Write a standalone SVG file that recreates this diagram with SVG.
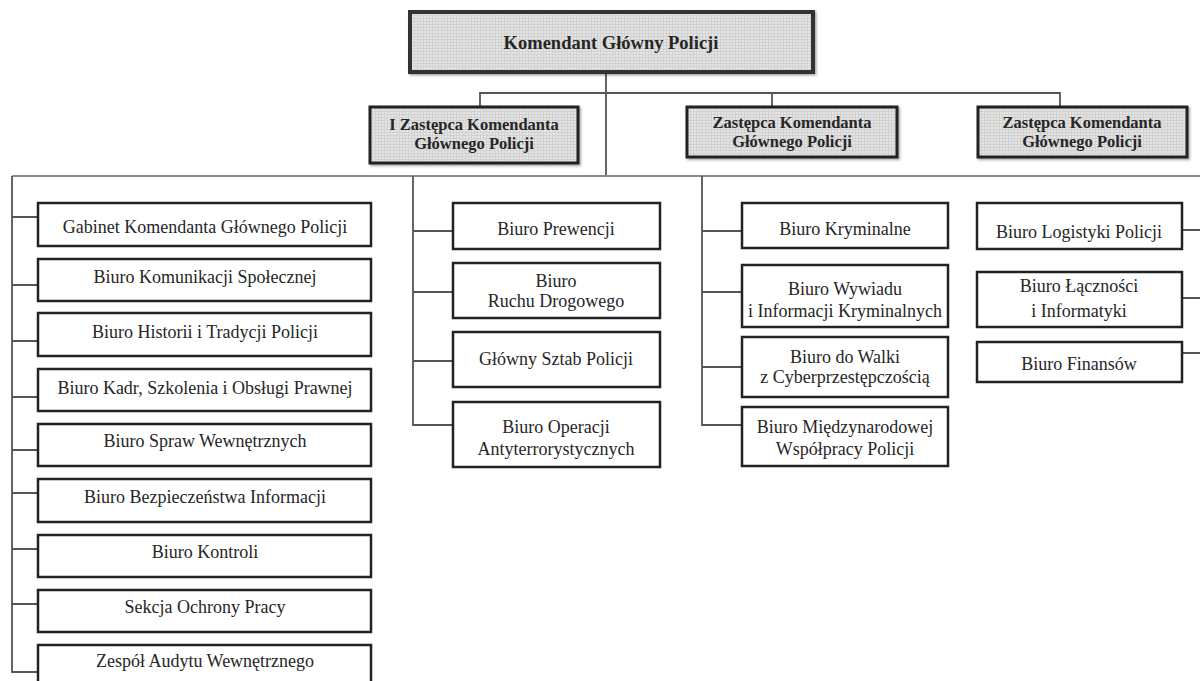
<svg xmlns="http://www.w3.org/2000/svg" width="1200" height="681" viewBox="0 0 1200 681">
<defs>
<pattern id="grid" width="3" height="3" patternUnits="userSpaceOnUse">
<rect width="3" height="3" fill="#e4e4e4"/>
<path d="M0 0.5H3M0.5 0V3" stroke="#d2d2d2" stroke-width="1"/>
</pattern>
<filter id="sh" x="-5%" y="-10%" width="110%" height="130%">
<feDropShadow dx="1.5" dy="1.5" stdDeviation="1" flood-color="#000" flood-opacity="0.35"/>
</filter>
</defs>
<style>
.top{fill:url(#grid);stroke:#333;stroke-width:4;filter:url(#sh)}
.dep{fill:url(#grid);stroke:#222;stroke-width:3;filter:url(#sh)}
.box{fill:#fff;stroke:#222;stroke-width:2.5}
.ln{fill:none;stroke:#555;stroke-width:1.8}
.lt{fill:none;stroke:#8a8a8a;stroke-width:1.8}
text{font-family:"Liberation Serif","Times New Roman",serif;fill:#262626;text-anchor:middle}
.t18{font-size:18px}
.tb{font-size:18.5px;font-weight:bold}
.td{font-size:16.5px;font-weight:bold}
</style>
<rect width="1200" height="681" fill="#fff"/>

<g id="connectors">
<path class="ln" d="M606 72V177"/>
<path class="ln" d="M480 107V93H1060V107M772 93V107"/>
<path class="lt" d="M12 176H1200"/>
<path class="ln" d="M12 176V672H38M12 217H38M12 285H38M12 341H38M12 397H38M12 450H38M12 493H38M12 549H38M12 604H38"/>
<path class="ln" d="M413 176V425H453M413 231H453M413 292H453M413 361H453"/>
<path class="ln" d="M702 176V425H742M702 231H742M702 292H742M702 367H742"/>
<path class="ln" d="M1182 230H1200M1182 298H1200M1182 353H1200"/>
</g>

<g id="n-kgp"><rect class="top" x="410" y="12" width="403" height="60"/><text class="tb" x="611" y="49">Komendant Główny Policji</text></g>

<g id="n-z1"><rect class="dep" x="370" y="107" width="208" height="56"/><text class="td" x="474" y="130">I Zastępca Komendanta</text><text class="td" x="474" y="149">Głównego Policji</text></g>
<g id="n-z2"><rect class="dep" x="687" y="107" width="210" height="50"/><text class="td" x="792" y="128">Zastępca Komendanta</text><text class="td" x="792" y="147">Głównego Policji</text></g>
<g id="n-z3"><rect class="dep" x="978" y="107" width="209" height="50"/><text class="td" x="1082" y="128">Zastępca Komendanta</text><text class="td" x="1082" y="147">Głównego Policji</text></g>

<g id="n-l1"><rect class="box" x="38" y="203" width="333" height="43"/><text class="t18" x="205" y="233">Gabinet Komendanta Głównego Policji</text></g>
<g id="n-l2"><rect class="box" x="38" y="259" width="333" height="42"/><text class="t18" x="205" y="283">Biuro Komunikacji Społecznej</text></g>
<g id="n-l3"><rect class="box" x="38" y="313" width="333" height="43"/><text class="t18" x="205" y="338">Biuro Historii i Tradycji Policji</text></g>
<g id="n-l4"><rect class="box" x="38" y="369" width="333" height="42"/><text class="t18" x="205" y="394">Biuro Kadr, Szkolenia i Obsługi Prawnej</text></g>
<g id="n-l5"><rect class="box" x="38" y="424" width="333" height="42"/><text class="t18" x="205" y="447">Biuro Spraw Wewnętrznych</text></g>
<g id="n-l6"><rect class="box" x="38" y="479" width="333" height="43"/><text class="t18" x="205" y="503">Biuro Bezpieczeństwa Informacji</text></g>
<g id="n-l7"><rect class="box" x="38" y="535" width="333" height="42"/><text class="t18" x="205" y="558">Biuro Kontroli</text></g>
<g id="n-l8"><rect class="box" x="38" y="590" width="333" height="42"/><text class="t18" x="205" y="613">Sekcja Ochrony Pracy</text></g>
<g id="n-l9"><rect class="box" x="38" y="645" width="333" height="45"/><text class="t18" x="205" y="667">Zespół Audytu Wewnętrznego</text></g>

<g id="n-c1"><rect class="box" x="453" y="203" width="207" height="46"/><text class="t18" x="556" y="235">Biuro Prewencji</text></g>
<g id="n-c2"><rect class="box" x="453" y="263" width="207" height="55"/><text class="t18" x="556" y="287">Biuro</text><text class="t18" x="556" y="307">Ruchu Drogowego</text></g>
<g id="n-c3"><rect class="box" x="453" y="332" width="207" height="55"/><text class="t18" x="556" y="365">Główny Sztab Policji</text></g>
<g id="n-c4"><rect class="box" x="453" y="402" width="207" height="65"/><text class="t18" x="556" y="433">Biuro Operacji</text><text class="t18" x="556" y="455">Antyterrorystycznych</text></g>

<g id="n-k1"><rect class="box" x="742" y="203" width="206" height="45"/><text class="t18" x="845" y="235">Biuro Kryminalne</text></g>
<g id="n-k2"><rect class="box" x="742" y="265" width="206" height="62"/><text class="t18" x="845" y="295">Biuro Wywiadu</text><text class="t18" x="845" y="317">i Informacji Kryminalnych</text></g>
<g id="n-k3"><rect class="box" x="742" y="337" width="206" height="60"/><text class="t18" x="845" y="363">Biuro do Walki</text><text class="t18" x="845" y="383">z Cyberprzestępczością</text></g>
<g id="n-k4"><rect class="box" x="742" y="407" width="206" height="59"/><text class="t18" x="845" y="433">Biuro Międzynarodowej</text><text class="t18" x="845" y="455">Współpracy Policji</text></g>

<g id="n-r1"><rect class="box" x="977" y="203" width="205" height="46"/><text class="t18" x="1079" y="238">Biuro Logistyki Policji</text></g>
<g id="n-r2"><rect class="box" x="977" y="272" width="205" height="55"/><text class="t18" x="1079" y="292">Biuro Łączności</text><text class="t18" x="1079" y="317">i Informatyki</text></g>
<g id="n-r3"><rect class="box" x="977" y="342" width="205" height="40"/><text class="t18" x="1079" y="370">Biuro Finansów</text></g>
</svg>
